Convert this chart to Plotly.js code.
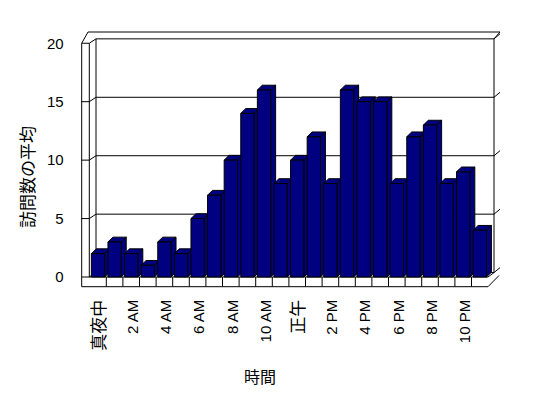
<!DOCTYPE html>
<html>
<head>
<meta charset="utf-8">
<script src="https://cdn.plot.ly/plotly-3.0.1.min.js"></script>
<style>html,body{margin:0;padding:0;background:#fff;}#chart{width:548px;height:398px;}</style>
</head>
<body>
<div id="chart"></div>
<script>
// ---- data ----
const hourLabels = ['真夜中','1 AM','2 AM','3 AM','4 AM','5 AM','6 AM','7 AM','8 AM','9 AM','10 AM','11 AM',
                    '正午','1 PM','2 PM','3 PM','4 PM','5 PM','6 PM','7 PM','8 PM','9 PM','10 PM','11 PM'];
const visits = [2,3,2,1,3,2,5,7,10,14,16,8,10,12,8,16,15,15,8,12,13,8,9,4];
const yTicks = [0,5,10,15,20];
const xTitle = '時間';
const yTitle = '訪問数の平均';

// ---- geometry ----
const W = 548, H = 398;
const px = x => x / W, py = y => 1 - y / H;
const sx = 16.6, sy = 11.6875;          // px per category / per unit
const x0 = 89.7, yBase = 277;            // front plane origin
const xRange = [-0.5, 24], yRange = [-0.5, 20];
const xDom = [px(x0), px(x0 + (xRange[1] - xRange[0]) * sx)];
const yDom = [py(yBase - yRange[0] * sy), py(yBase - yRange[1] * sy)];
const fyOf = v => yBase - v * sy;        // front plane y
const byOf = v => 272.6 - v * sy;        // back wall y
const dx = 0.3, dy = 0.41, hw = 0.4;     // bar depth (data units), half width
const navy = '#000080';

const idx = visits.map((_, i) => i);
const traces = [];
visits.forEach((v, i) => {
  const l = i - hw, r = i + hw;
  traces.push({type:'scatter', mode:'lines', x:[r, r+dx, r+dx, r, r], y:[0, dy, v+dy, v, 0],
    fill:'toself', fillcolor:navy, line:{color:'#000', width:1}, hoverinfo:'skip', showlegend:false});
  traces.push({type:'scatter', mode:'lines', x:[l, r, r+dx, l+dx, l], y:[v, v, v+dy, v+dy, v],
    fill:'toself', fillcolor:navy, line:{color:'#000', width:1}, hoverinfo:'skip', showlegend:false});
});
traces.push({type:'bar', x:idx, y:visits, width:2*hw, xaxis:'x2', yaxis:'y2',
  marker:{color:navy, line:{color:'#000', width:1}}, showlegend:false, hoverinfo:'x+y'});

// ---- frame ----
const shapes = [];
const L = (xa, ya, xb, yb) => shapes.push({type:'line', xref:'paper', yref:'paper', layer:'below',
  x0:px(xa), y0:py(ya), x1:px(xb), y1:py(yb), line:{color:'#000', width:1}});
const topF = fyOf(20);
L(81.7, topF, 81.7, 286.7);
L(89.3, topF, 89.3, yBase);
L(81.7, 286.7, 488, 286.7);
L(89.3, yBase, 488, yBase);
L(488, 286.7, 499, 275.5);
L(488, yBase, 494, 272.6);
L(96, byOf(20), 96, byOf(0));
L(494, byOf(20), 494, byOf(0));
L(88, 32, 500, 32);
L(81.7, topF, 88, 32);
L(500, 32, 494, byOf(20));
yTicks.forEach(v => {
  const f = fyOf(v), b = byOf(v);
  L(81.7, f, 89.3, f);
  L(89.3, f, 96, b);
  L(96, b, 494, b);
  L(494, b, 500, b - 5);
});
for (let k = 1; k < visits.length; k++) {
  shapes.push({type:'line', xref:'x', yref:'paper', layer:'below', x0:k-0.5, x1:k-0.5,
    y0:py(yBase), y1:py(286.7), line:{color:'#000', width:1}});
}

const isCJK = s => /[\u3000-\u9fff]/.test(s);
const tickText = idx.filter(i => i % 2 === 0).map(i => hourLabels[i])
  .map(s => isCJK(s) ? '<span style="font-size:17px">' + s + '</span>' : s);

const tickFont = {family:'"Liberation Sans", "Noto Sans CJK JP", sans-serif', size:15, color:'#000'};
const layout = {
  width:W, height:H, margin:{l:0, r:0, t:0, b:0},
  paper_bgcolor:'#fff', plot_bgcolor:'rgba(0,0,0,0)', showlegend:false,
  xaxis:{domain:xDom, range:xRange, showgrid:false, zeroline:false, showline:false, ticks:'',
    tickmode:'array', tickvals:idx.filter(i => i % 2 === 0), ticktext:tickText,
    tickangle:-90, tickfont:tickFont, ticklabelstandoff:13, ticklabelshift:2},
  yaxis:{domain:yDom, range:yRange, showgrid:false, zeroline:false, showline:false, ticks:'',
    tickmode:'array', tickvals:yTicks, tickfont:tickFont, ticklabelstandoff:25},
  xaxis2:{overlaying:'x', domain:xDom, range:xRange, visible:false},
  yaxis2:{overlaying:'y', domain:yDom, range:yRange, visible:false},
  shapes:shapes,
  annotations:[
    {text:xTitle, xref:'paper', yref:'paper', x:px(260), y:py(376), xanchor:'center', yanchor:'middle',
     showarrow:false, font:{family:'"Noto Sans CJK JP", sans-serif', size:16, color:'#000'}},
    {text:yTitle, xref:'paper', yref:'paper', x:px(26), y:py(177), xanchor:'center', yanchor:'middle',
     showarrow:false, textangle:-90, font:{family:'"Noto Sans CJK JP", sans-serif', size:17, color:'#000'}}
  ]
};
Plotly.newPlot('chart', traces, layout, {staticPlot:true, displayModeBar:false});
</script>
</body>
</html>
